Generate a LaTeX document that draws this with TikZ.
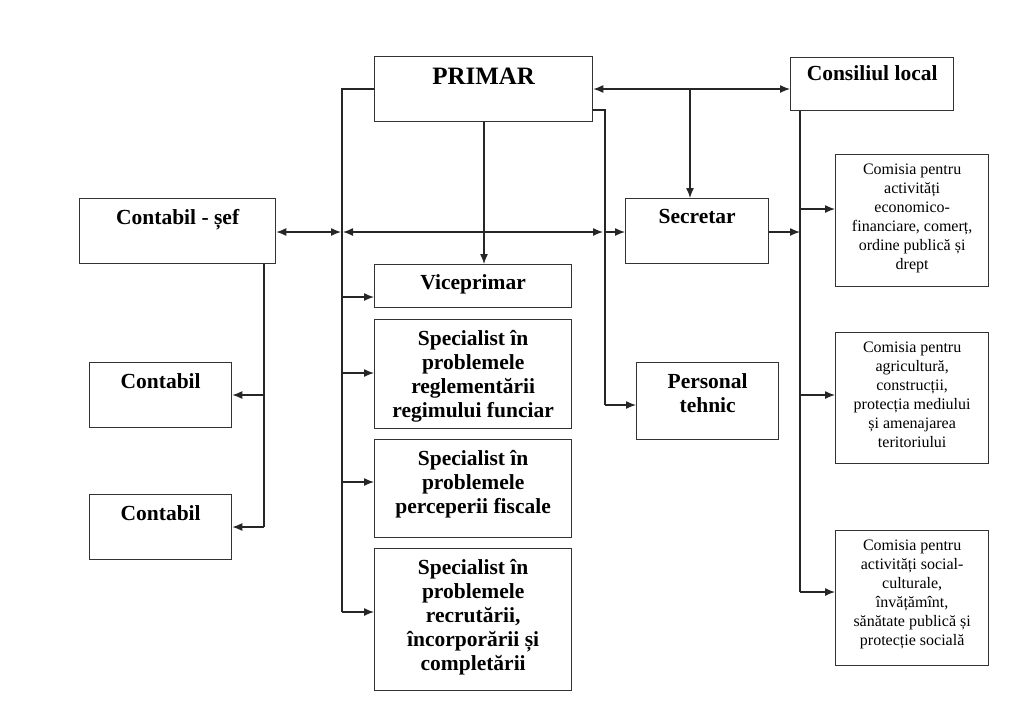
\documentclass[tikz,border=0pt]{standalone}
\usepackage{fontspec}
\setmainfont{Liberation Serif}
\usetikzlibrary{arrows.meta}
\tikzset{
 box/.style={draw=black!80,line width=1.3pt,anchor=north west,inner sep=0pt},
 bt/.style={font=\bfseries\fontsize{21.5}{24}\selectfont,align=center,anchor=north,inner sep=0pt},
 st/.style={font=\fontsize{16}{19}\selectfont,align=center,anchor=north,inner sep=0pt},
 ln/.style={line width=1.3pt,draw=black!85},
 ar/.style={ln,-{Latex[length=10pt,width=8pt]}},
 da/.style={ln,{Latex[length=10pt,width=8pt]}-{Latex[length=10pt,width=8pt]}}
}
\newcommand{\bx}[5]{\node[box,minimum width=#4pt-#2pt,minimum height=#5pt-#3pt] (#1) at (#2,#3) {};}
\begin{document}
\begin{tikzpicture}[x=1pt,y=-1pt]
\useasboundingbox (0,0) rectangle (1024,724);
\bx{primar}{374}{56}{592}{121}
\bx{cons}{790}{57}{953}{110}
\bx{csef}{79}{198}{275}{263}
\bx{secr}{625}{198}{768}{263}
\bx{vice}{374}{264}{571}{307}
\bx{sp1}{374}{319}{571}{428}
\bx{sp2}{374}{439}{571}{537}
\bx{sp3}{374}{548}{571}{690}
\bx{cont1}{89}{362}{231}{427}
\bx{cont2}{89}{494}{231}{559}
\bx{pers}{636}{362}{778}{439}
\bx{com1}{835}{154}{988}{286}
\bx{com2}{835}{332}{988}{463}
\bx{com3}{835}{530}{988}{665}

\node[bt,font=\bfseries\fontsize{25}{28}\selectfont] (tprimar) at ([yshift=-12pt]primar.north) {PRIMAR};
\node[bt] (tcons) at ([yshift=-8pt]cons.north) {Consiliul local};
\node[bt] (tcsef) at ([yshift=-11pt]csef.north) {Contabil - șef};
\node[bt] (tsecr) at ([yshift=-11pt]secr.north) {Secretar};
\node[bt] (tvice) at ([yshift=-10pt]vice.north) {Viceprimar};
\node[bt] (tsp1) at ([yshift=-11pt]sp1.north) {Specialist în\\problemele\\reglementării\\regimului funciar};
\node[bt] (tsp2) at ([yshift=-11pt]sp2.north) {Specialist în\\problemele\\perceperii fiscale};
\node[bt] (tsp3) at ([yshift=-11pt]sp3.north) {Specialist în\\problemele\\recrutării,\\încorporării și\\completării};
\node[bt] (tc1) at ([yshift=-11pt]cont1.north) {Contabil};
\node[bt] (tc2) at ([yshift=-11pt]cont2.north) {Contabil};
\node[bt] (tpers) at ([yshift=-11pt]pers.north) {Personal\\tehnic};
\node[st] (tcom1) at ([yshift=-10pt]com1.north) {Comisia pentru\\activități\\economico-\\financiare, comerț,\\ordine publică și\\drept};
\node[st] (tcom2) at ([yshift=-10pt]com2.north) {Comisia pentru\\agricultură,\\construcții,\\protecția mediului\\și amenajarea\\teritoriului};
\node[st] (tcom3) at ([yshift=-10pt]com3.north) {Comisia pentru\\activități social-\\culturale,\\învățămînt,\\sănătate publică și\\protecție socială};

% coordinates
\coordinate (pl) at (342,89);
\coordinate (pb) at (342,612);
\coordinate (h1) at (342,232);
\coordinate (h2) at (605,232);
\coordinate (pr) at (605,110);
\coordinate (pt) at (605,405);
\coordinate (cv) at (800,110);
\coordinate (cb) at (800,592);
\coordinate (mid) at (690,89);
\coordinate (cs) at (264,263);
\coordinate (csb) at (264,527);

% PRIMAR left bus
\draw[ln] (primar.west|-pl) -- (pl) -- (pb);
\draw[ar] (342,297) -- (vice.west|-0,297);
\draw[ar] (342,373) -- (sp1.west|-0,373);
\draw[ar] (342,482) -- (sp2.west|-0,482);
\draw[ar] (pb) -- (sp3.west|-pb);
% horizontal
\draw[da] (csef.east|-h1) -- ([xshift=-1pt]h1);
\draw[da] ([xshift=1pt]h1) -- ([xshift=-2pt]h2);
\draw[ar] (h2) -- (secr.west|-h2);
% PRIMAR down
\draw[ar] (primar.south-|484,0) -- (vice.north-|484,0);
% PRIMAR to Consiliul
\draw[da] (primar.east|-pl) -- (cons.west|-pl);
\draw[ar] (mid) -- (secr.north-|mid);
% personal tehnic
\draw[ln] (primar.east|-pr) -- (pr) -- (pt);
\draw[ar] (pt) -- (pers.west|-pt);
% consiliul bus
\draw[ln] (cons.south-|cv) -- (cb);
\draw[ar] (secr.east|-h2) -- (cv|-h2);
\draw[ar] (800,209) -- (com1.west|-0,209);
\draw[ar] (800,395) -- (com2.west|-0,395);
\draw[ar] (cb) -- (com3.west|-cb);
% contabil sef
\draw[ln] (csef.south-|cs) -- (csb);
\draw[ar] (264,395) -- (cont1.east|-0,395);
\draw[ar] (csb) -- (cont2.east|-csb);
\end{tikzpicture}
\end{document}
